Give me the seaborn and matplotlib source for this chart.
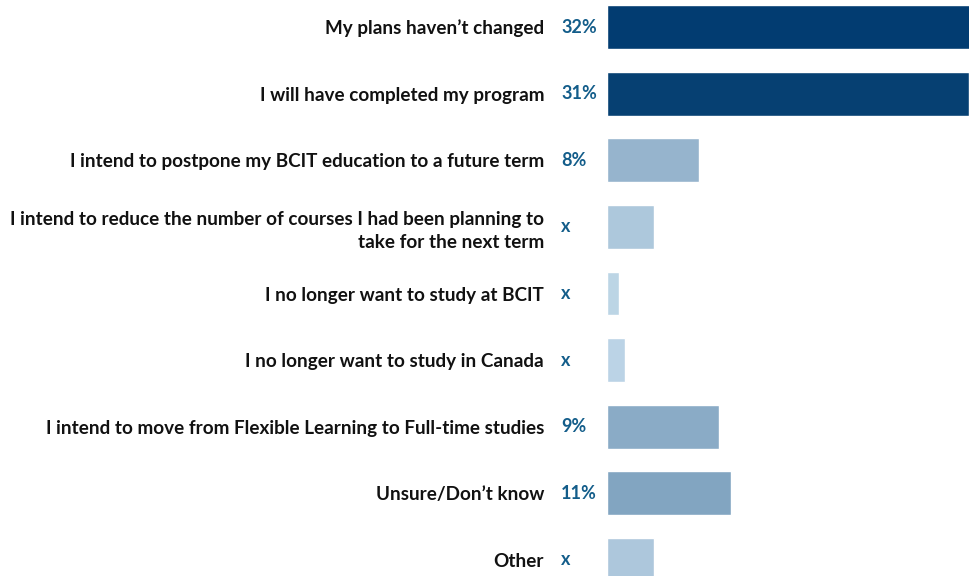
import matplotlib
matplotlib.use("Agg")
import matplotlib.pyplot as plt
import seaborn as sns
import pandas as pd

categories = [
    "My plans haven\u2019t changed",
    "I will have completed my program",
    "I intend to postpone my BCIT education to a future term",
    "I intend to reduce the number of courses I had been planning to\ntake for the next term",
    "I no longer want to study at BCIT",
    "I no longer want to study in Canada",
    "I intend to move from Flexible Learning to Full-time studies",
    "Unsure/Don\u2019t know",
    "Other",
]
values = [32, 31, 7.9, 4.0, 1.0, 1.5, 9.6, 10.6, 4.0]
value_labels = ["32%", "31%", "8%", "x", "x", "x", "9%", "11%", "x"]
colors = ["#023C71", "#064072", "#96B4CD", "#ADC8DC", "#BCD5E5",
          "#BBD3E6", "#8AABC6", "#82A5C1", "#ADC7DC"]

sns.set_theme(style="white")
plt.rcParams['font.family'] = ['Lato', 'DejaVu Sans']

W, H = 969, 576
fig = plt.figure(figsize=(W / 100, H / 100), dpi=100)
ax = fig.add_axes([607 / W, 0, (W - 607) / W, 1])

df = pd.DataFrame({"cat": categories, "val": values})
sns.barplot(data=df, x="val", y="cat", hue="cat", palette=colors,
            legend=False, orient="h", width=0.66, ax=ax, saturation=1)

ax.set_xlim(0, 31)
ax.set_ylim(8 + 16 / 66.6, -27 / 66.6)
ax.set_xlabel("")
ax.set_ylabel("")
ax.set_xticks([])
for s in ax.spines.values():
    s.set_visible(False)
ax.tick_params(axis="y", length=0, pad=63 * 0.72)
for lbl in ax.get_yticklabels():
    lbl.set_fontsize(13.6)
    lbl.set_fontweight("bold")
    lbl.set_color("#111111")
    lbl.set_linespacing(1.4)

for i, t in enumerate(value_labels):
    ax.annotate(t, xy=(0, i), xycoords="data", xytext=(-46 * 0.72, 0),
                textcoords="offset points", ha="left", va="center",
                fontsize=13, fontweight="bold", color="#135D8A",
                annotation_clip=False)

fig.savefig("out.png", dpi=100)
